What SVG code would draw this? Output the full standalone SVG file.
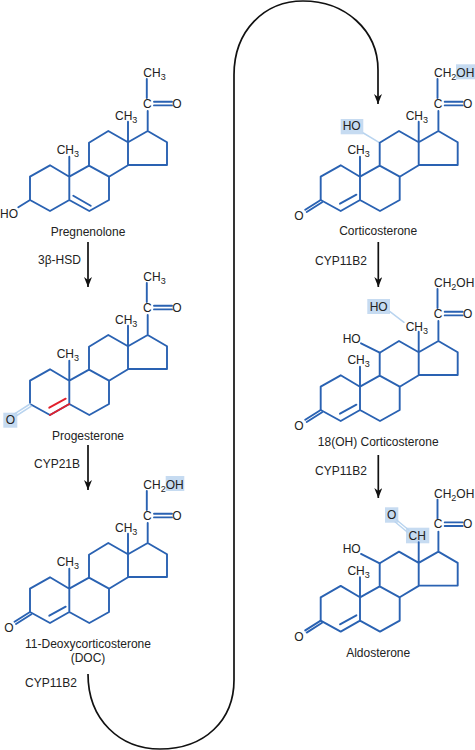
<svg xmlns="http://www.w3.org/2000/svg" xmlns:xlink="http://www.w3.org/1999/xlink" width="475" height="750" viewBox="0 0 475 750">
<style>
text{font-family:"Liberation Sans",Arial,sans-serif;font-size:12px;fill:#222}
.c{text-anchor:middle}
.b{fill:none;stroke:#2a62b2;stroke-width:1.9;stroke-linejoin:round;stroke-linecap:round}
.p{fill:none;stroke:#b9d4ef;stroke-width:1.5;stroke-linecap:round}
.h{fill:#c6dbf1}
.r{fill:none;stroke:#e3202c;stroke-width:1.9;stroke-linecap:round}
.s{font-size:9px}
.a{fill:none;stroke:#111;stroke-width:1.7}
</style>
<defs>
<marker id="ah" markerUnits="userSpaceOnUse" markerWidth="11" markerHeight="9" refX="10" refY="4" orient="auto"><path d="M0 0L10 4L0 8L3 4Z" fill="#111"/></marker>
<path id="core" class="b" d="M30 200V176.7L50 165.3L69.3 176.7V200L50 211L30 200M69.3 176.7L89 165.7L109 176.7V200L89.3 211L69.3 200M89 165.7V142.7L108.3 131L128 142.3V165.3L109 176.7M128 142.3L147.7 131L167 142.3V165H128M69.3 176.7V156.7M128 142.3V121.7M147.7 131V111M146.8 79V98M154 101.8H172M154 105.4H172"/>
<path id="ene" class="b" d="M49.3 203.7L65.7 194.7"/>
<path id="keto" class="b" d="M30 200L14.5 209.8M31.4 202.2L16 212"/>
<path id="oh11" class="b" d="M70.3 133.3L89 142.7"/>
</defs>
<g id="connectors">
<path class="a" d="M88 242V287" marker-end="url(#ah)"/>
<path class="a" d="M88 445V490" marker-end="url(#ah)"/>
<path class="a" d="M88 674C88 720 120 749 160 749C205 749 234 720 234 680V75C234 30 265 1 303 1C345 1 378 30 378 70V104" marker-end="url(#ah)"/>
<path class="a" d="M378.300 242V287" marker-end="url(#ah)"/>
<path class="a" d="M378.300 455V498" marker-end="url(#ah)"/>
<text x="38" y="264">3β-HSD</text>
<text x="34" y="468">CYP21B</text>
<text x="25" y="687">CYP11B2</text>
<text x="315" y="265">CYP11B2</text>
<text x="315" y="475">CYP11B2</text>
</g>
<g id="pregnenolone">
<use xlink:href="#core" href="#core"/>
<path class="b" d="M73.300 195.700L90.700 205.700M30 200L18.300 207.300"/>
<text x="56.700" y="154">CH<tspan class="s" dy="3">3</tspan></text>
<text x="115" y="120">CH<tspan class="s" dy="3">3</tspan></text>
<text x="143.300" y="76.700">CH<tspan class="s" dy="3">3</tspan></text>
<text class="c" x="147.300" y="107.500">C</text><text class="c" x="177" y="107.500">O</text>
<text x="0" y="217.500">HO</text>
<text class="c" x="88" y="236">Pregnenolone</text>
</g>
<g id="progesterone" transform="translate(0,204)">
<rect class="h" x="3.300" y="208.700" width="14" height="15"/>
<use xlink:href="#core" href="#core"/>
<path class="r" d="M49.300 203.700L65.700 194.700M50 211L69.300 200"/>
<path class="p" d="M30 200L14.500 209.800M31.400 202.200L16 212"/>
<text x="56.700" y="154">CH<tspan class="s" dy="3">3</tspan></text>
<text x="115" y="120">CH<tspan class="s" dy="3">3</tspan></text>
<text x="143.300" y="76.700">CH<tspan class="s" dy="3">3</tspan></text>
<text class="c" x="147.300" y="107.500">C</text><text class="c" x="177" y="107.500">O</text>
<text class="c" x="10.300" y="220.400">O</text>
<text class="c" x="88" y="236">Progesterone</text>
</g>
<g id="doc" transform="translate(0,412)">
<rect class="h" x="165.700" y="64" width="18.600" height="15"/>
<use xlink:href="#core" href="#core"/><use xlink:href="#ene" href="#ene"/><use xlink:href="#keto" href="#keto"/>
<text x="56.700" y="154">CH<tspan class="s" dy="3">3</tspan></text>
<text x="115" y="120">CH<tspan class="s" dy="3">3</tspan></text>
<text x="143.300" y="76.700">CH<tspan class="s" dy="3">2</tspan><tspan dy="-3">OH</tspan></text>
<text class="c" x="147.300" y="107.500">C</text><text class="c" x="177" y="107.500">O</text>
<text class="c" x="9" y="219.700">O</text>
<text class="c" x="88" y="236">11-Deoxycorticosterone</text>
<text class="c" x="88" y="250">(DOC)</text>
</g>
<g id="corticosterone" transform="translate(290.700,0)">
<rect class="h" x="165.300" y="64.300" width="19" height="15"/>
<rect class="h" x="50" y="119" width="22.600" height="15.300"/>
<path class="p" d="M72.600 133L88.300 142.300"/>
<use xlink:href="#core" href="#core"/><use xlink:href="#ene" href="#ene"/><use xlink:href="#keto" href="#keto"/>
<text x="52" y="130">HO</text>
<text x="56.700" y="154">CH<tspan class="s" dy="3">3</tspan></text>
<text x="115" y="120">CH<tspan class="s" dy="3">3</tspan></text>
<text x="143.300" y="76.700">CH<tspan class="s" dy="3">2</tspan><tspan dy="-3">OH</tspan></text>
<text class="c" x="147.300" y="107.500">C</text><text class="c" x="177" y="107.500">O</text>
<text class="c" x="8.300" y="220">O</text>
<text class="c" x="87.500" y="235">Corticosterone</text>
</g>
<g id="oh18-corticosterone" transform="translate(290.700,210)">
<rect class="h" x="76.600" y="89" width="22.700" height="15"/>
<path class="p" d="M99.300 101.700L113.300 112.300"/>
<use xlink:href="#core" href="#core"/><use xlink:href="#ene" href="#ene"/><use xlink:href="#keto" href="#keto"/><use xlink:href="#oh11" href="#oh11"/>
<text class="c" x="88" y="100.700">HO</text>
<text x="52" y="132.700">HO</text>
<text x="56.700" y="154">CH<tspan class="s" dy="3">3</tspan></text>
<text x="115" y="120.700">CH<tspan class="s" dy="3">3</tspan></text>
<text x="143.300" y="76.700">CH<tspan class="s" dy="3">2</tspan><tspan dy="-3">OH</tspan></text>
<text class="c" x="147.300" y="107.500">C</text><text class="c" x="177" y="107.500">O</text>
<text class="c" x="8.300" y="220">O</text>
<text class="c" x="87.500" y="236">18(OH) Corticosterone</text>
</g>
<g id="aldosterone" transform="translate(290.700,420.600)">
<rect class="h" x="94.300" y="86.700" width="13.300" height="15.400"/>
<rect class="h" x="115.300" y="107.100" width="23.300" height="15.600"/>
<path class="p" d="M106 99.400L118 109.400M104.500 101.400L116.500 111.400"/>
<use xlink:href="#core" href="#core"/><use xlink:href="#ene" href="#ene"/><use xlink:href="#keto" href="#keto"/><use xlink:href="#oh11" href="#oh11"/>
<text class="c" x="101" y="98.400">O</text>
<text class="c" x="126.600" y="119.400">CH</text>
<text x="52" y="132.700">HO</text>
<text x="56.700" y="154">CH<tspan class="s" dy="3">3</tspan></text>
<text x="143.300" y="77">CH<tspan class="s" dy="3">2</tspan><tspan dy="-3">OH</tspan></text>
<text class="c" x="147.300" y="107.500">C</text><text class="c" x="177" y="107.500">O</text>
<text class="c" x="8.300" y="220">O</text>
<text class="c" x="87.500" y="236">Aldosterone</text>
</g>
</svg>
